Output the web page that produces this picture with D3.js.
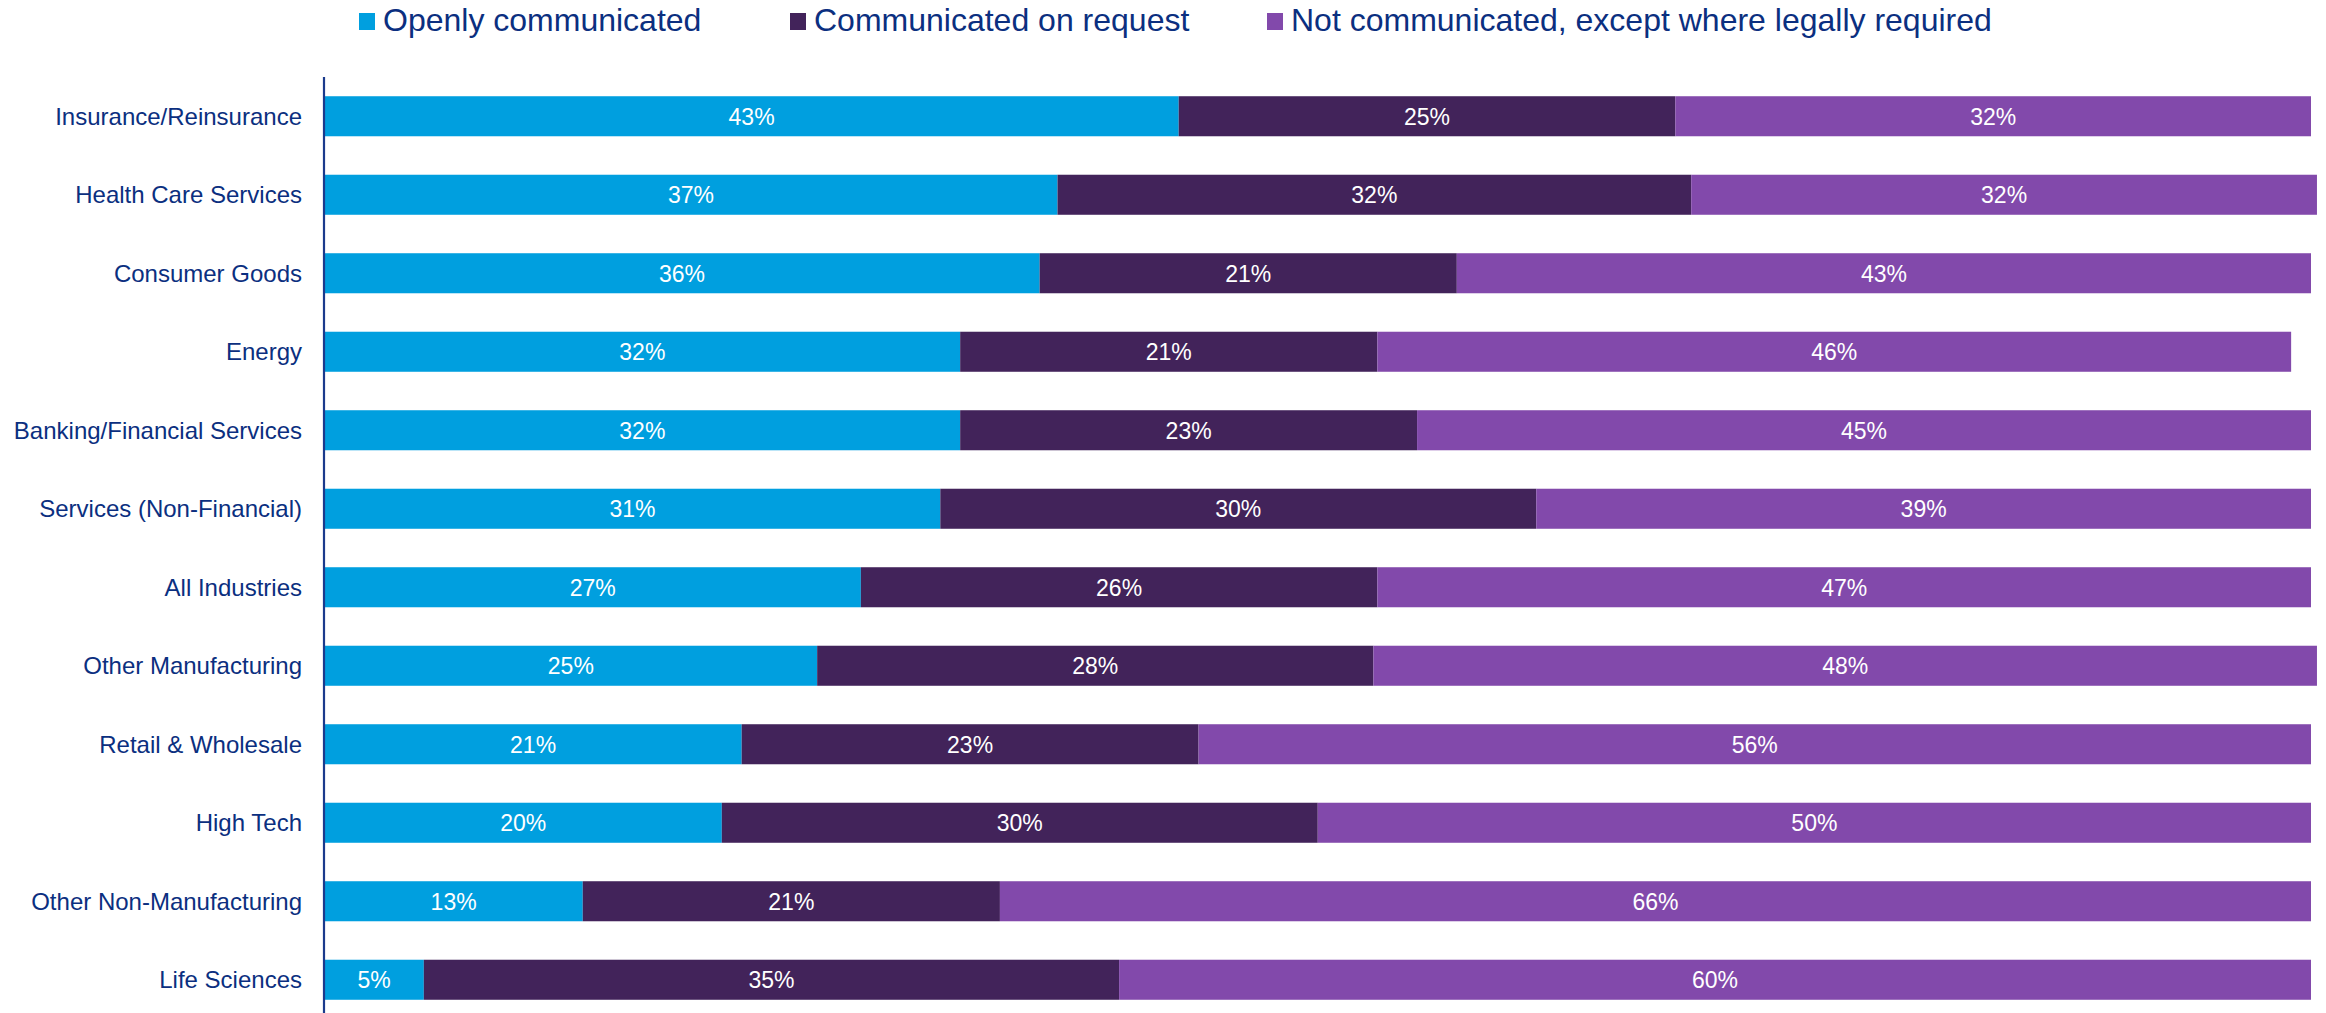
<!DOCTYPE html>
<html lang="en">
<head>
    <meta charset="UTF-8">
    <title>Communication by industry</title>
    <script src="https://d3js.org/d3.v7.min.js"></script>
    <style>
        body {
            margin: 0;
            background-color: #ffffff;
            font-family: "Liberation Sans", Arial, sans-serif;
        }
        .cat-label {
            fill: #0b2f80;
            font-size: 24px;
        }
        .bar-label {
            fill: #ffffff;
            font-size: 23px;
        }
        .legend-label {
            fill: #0b2f80;
            font-size: 32px;
        }
    </style>
</head>
<body>
    <svg width="2326" height="1013"></svg>

    <script>
        // Chart data
        const categories = [
            "Insurance/Reinsurance", "Health Care Services", "Consumer Goods", "Energy",
            "Banking/Financial Services", "Services (Non-Financial)", "All Industries",
            "Other Manufacturing", "Retail & Wholesale", "High Tech",
            "Other Non-Manufacturing", "Life Sciences"
        ];
        const openly = [43, 36.9, 36, 32, 32, 31, 27, 24.8, 21, 20, 13, 5];
        const onRequest = [25, 31.9, 21, 21, 23, 30, 26, 28, 23, 30, 21, 35];
        const notCommunicated = [32, 31.5, 43, 46, 45, 39, 47, 47.5, 56, 50, 66, 60];

        const seriesNames = ["Openly communicated", "Communicated on request", "Not communicated, except where legally required"];
        const seriesKeys = ["openly", "onRequest", "notCommunicated"];
        const colors = ["#009fdf", "#42235a", "#8249ab"];

        const svg = d3.select("svg");
        const width = +svg.attr("width");
        const height = +svg.attr("height");

        // build table for d3.stack
        const table = categories.map((c, i) => ({
            category: c,
            openly: openly[i],
            onRequest: onRequest[i],
            notCommunicated: notCommunicated[i]
        }));

        const stacked = d3.stack().keys(seriesKeys)(table);

        // Scales
        const x = d3.scaleLinear()
            .domain([0, 100])
            .range([324.5, 2311]);

        const y = d3.scaleBand()
            .domain(categories)
            .range([77, 1019])
            .paddingInner(0.49)
            .paddingOuter(0.245);

        const color = d3.scaleOrdinal().domain(seriesKeys).range(colors);
        const fmt = d3.format(".0f");

        // Bars
        const layers = svg.append("g")
            .selectAll("g")
            .data(stacked)
            .join("g")
            .attr("fill", d => color(d.key));

        layers.selectAll("rect")
            .data(d => d)
            .join("rect")
            .attr("x", d => x(d[0]))
            .attr("y", d => y(d.data.category))
            .attr("width", d => x(d[1]) - x(d[0]))
            .attr("height", y.bandwidth());

        // Segment labels
        layers.selectAll("text")
            .data(d => d.map(v => ({ v, key: d.key })))
            .join("text")
            .attr("class", "bar-label")
            .attr("x", d => (x(d.v[0]) + x(d.v[1])) / 2)
            .attr("y", d => y(d.v.data.category) + y.bandwidth() / 2)
            .attr("text-anchor", "middle")
            .attr("dy", "0.36em")
            .text(d => fmt(d.v[1] - d.v[0]) + "%");

        // Category axis
        const yAxis = svg.append("g")
            .attr("transform", "translate(324,0)")
            .call(d3.axisLeft(y).tickSize(0).tickPadding(22));

        yAxis.select(".domain")
            .attr("stroke", "#1b3a8c")
            .attr("stroke-width", 2.2)
            .attr("d", `M0,77V${height}`);

        yAxis.selectAll(".tick text")
            .attr("class", "cat-label")
            .attr("font-family", null)
            .attr("font-size", null)
            .attr("fill", null)
            .attr("dy", "0.36em");

        // Legend
        const legendX = [359, 790, 1267];
        const legend = svg.append("g")
            .selectAll("g")
            .data(seriesNames)
            .join("g")
            .attr("transform", (d, i) => `translate(${legendX[i]},0)`);

        legend.append("rect")
            .attr("x", 0)
            .attr("y", 13)
            .attr("width", 16)
            .attr("height", 17)
            .attr("fill", (d, i) => colors[i]);

        legend.append("text")
            .attr("class", "legend-label")
            .attr("x", 24)
            .attr("y", 31)
            .text(d => d);
    </script>
</body>
</html>
